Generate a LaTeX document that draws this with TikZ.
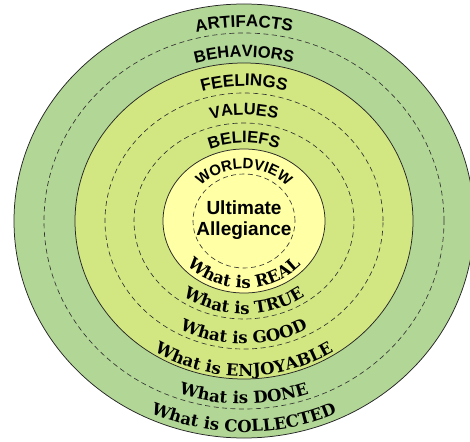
\documentclass[tikz,border=0pt]{standalone}
\usepackage{fontspec}
\setsansfont{Liberation Sans}
\newfontfamily\lowserif{DejaVu Serif}
\usetikzlibrary{decorations.text}
\definecolor{ringgreen}{RGB}{178,214,150}
\definecolor{ringlime}{RGB}{210,230,130}
\definecolor{ringcream}{RGB}{255,255,165}
\newcommand\topring[1]{\sffamily\bfseries\fontsize{#1}{#1}\selectfont}
\newcommand\lowring[1]{\lowserif\bfseries\fontsize{#1}{#1}\selectfont}

\begin{document}
\begin{tikzpicture}[
  x=1pt, y=1pt,
  ring/.style={draw=black!85, line width=0.75pt},
  dashring/.style={draw=black!80, line width=0.65pt, dash pattern=on 5pt off 3.5pt},
  arctext/.style={decorate, decoration={text along path, text align=center, text={#1}}},
]
\fill[white] (-244,-220) rectangle (226,221);
\useasboundingbox (-244,-220) rectangle (226,221);

%% ── Rings ─────────────────────────────────────────────────────────────────
\draw[ring, fill=ringgreen] (0,0) ellipse[x radius=230pt, y radius=217pt];
\draw[dashring] (0,0) ellipse[x radius=200pt, y radius=188pt];
\draw[ring, fill=ringlime] (0,0) ellipse[x radius=169pt, y radius=158pt];
\draw[dashring] (0,0) ellipse[x radius=139pt, y radius=128pt];
\draw[dashring] (0,0) ellipse[x radius=110pt, y radius=98pt];
\draw[ring, fill=ringcream] (0,0) ellipse[x radius=81pt, y radius=72pt];
\draw[dashring] (0,0) ellipse[x radius=51pt, y radius=47pt];

%% ── Upper labels ──────────────────────────────────────────────────────────
\path[arctext={|\topring{17}|ARTIFACTS}]
  (-207,0) arc[start angle=180, end angle=0, x radius=207pt, y radius=194pt];
\path[arctext={|\topring{16.5}|BEHAVIORS}]
  (-176,0) arc[start angle=180, end angle=0, x radius=176pt, y radius=164pt];
\path[arctext={|\topring{17}|FEELINGS}]
  (-145,0) arc[start angle=180, end angle=0, x radius=145pt, y radius=135pt];
\path[arctext={|\topring{16.5}|VALUES}]
  (-116,0) arc[start angle=180, end angle=0, x radius=116pt, y radius=106pt];
\path[arctext={|\topring{16.5}|BELIEFS}]
  (-87,0) arc[start angle=180, end angle=0, x radius=87pt, y radius=78pt];
\path[arctext={|\topring{15}|WORLDVIEW}]
  (-58,0) arc[start angle=180, end angle=0, x radius=58pt, y radius=52pt];

%% ── Lower labels ──────────────────────────────────────────────────────────
\path[arctext={|\lowring{16.5}|What is REAL}]
  (-75,0) arc[start angle=180, end angle=360, x radius=75pt, y radius=67pt];
\path[arctext={|\lowring{16.5}|What is TRUE}]
  (-103,0) arc[start angle=180, end angle=360, x radius=103pt, y radius=93pt];
\path[arctext={|\lowring{16.5}|What is GOOD}]
  (-134,0) arc[start angle=180, end angle=360, x radius=134pt, y radius=123pt];
\path[arctext={|\lowring{16.5}|What is ENJOYABLE}]
  (-167,0) arc[start angle=180, end angle=360, x radius=167pt, y radius=155pt];
\path[arctext={|\lowring{16.5}|What is DONE}]
  (-196,0) arc[start angle=180, end angle=360, x radius=196pt, y radius=183pt];
\path[arctext={|\lowring{16.5}|What is COLLECTED}]
  (-225,0) arc[start angle=180, end angle=360, x radius=225pt, y radius=211pt];

%% ── Core ──────────────────────────────────────────────────────────────────
\node[font=\sffamily\bfseries\fontsize{19}{21}\selectfont, align=center,
      inner sep=0pt] (core) at (0,1) {Ultimate\\Allegiance};

\end{tikzpicture}
\end{document}
